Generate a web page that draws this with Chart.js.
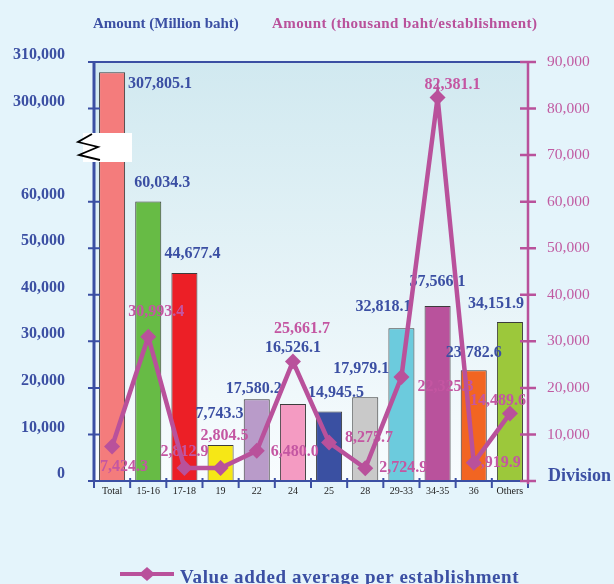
<!DOCTYPE html>
<html>
<head>
<meta charset="utf-8">
<script src="https://cdn.jsdelivr.net/npm/chart.js@4.4.0/dist/chart.umd.min.js"></script>
<style>
  html, body { margin: 0; padding: 0; background: #e4f4fb; }
</style>
</head>
<body>
<canvas id="myChart" width="614" height="584"></canvas>
<script>
// data
const divisions = ['Total', '15-16', '17-18', '19', '22', '24', '25', '28', '29-33', '34-35', '36', 'Others'];
const valueAdded = [307805.1, 60034.3, 44677.4, 7743.3, 17580.2, 16526.1, 14945.5, 17979.1, 32818.1, 37566.1, 23782.6, 34151.9];
const avgPerEstablishment = [7424.3, 30993.4, 2812.9, 2804.5, 6480.0, 25661.7, 8275.7, 2724.9, 22325.3, 82381.1, 3919.9, 14489.6];
const leftTickLabels = ['0', '10,000', '20,000', '30,000', '40,000', '50,000', '60,000', '', '300,000', '310,000'];
const rightTickLabels = ['', '10,000', '20,000', '30,000', '40,000', '50,000', '60,000', '70,000', '80,000', '90,000'];
// left axis is broken between 60,000 and 300,000
const axisCut = 220000;

const barColors = ['#f47c7c', '#67bb45', '#ec1f26', '#f6e716', '#b99bc9', '#f49bc2', '#3a50a2', '#c9c9c9', '#6ccbdd', '#b9529c', '#f26522', '#9cc83b'];

// label offsets from bar top / point (pixels)
const barLabelShift = [[48, 12], [14, -19], [8, -19], [-1, -31], [-3, -10], [0, -56], [7, -19], [-4, -28], [-18, -21], [0, -24], [0, -17], [-14, -18]];
const lineLabelShift = [[12, 20], [8, -25], [0, -16], [4, -32], [38, 1], [9, -33], [40, -5], [38, 0], [44, 10], [15, -13], [23, 0], [-12, -13]];

const navy = '#3b4fa3';
const magenta = '#b9519b';
const serif = 'Liberation Serif';

function fmt(v) {
    return v.toLocaleString('en-US', { minimumFractionDigits: 1, maximumFractionDigits: 1 });
}

const decor = {
    id: 'decor',
    beforeDraw(chart) {
        const { ctx, chartArea: a } = chart;
        ctx.save();
        ctx.fillStyle = '#e4f4fb';
        ctx.fillRect(0, 0, chart.width, chart.height);
        const g = ctx.createLinearGradient(0, a.top, 0, a.bottom);
        g.addColorStop(0, '#d1e9f0');
        g.addColorStop(1, '#f8fcfe');
        ctx.fillStyle = g;
        ctx.fillRect(a.left, a.top, a.right - a.left, a.bottom - a.top);
        ctx.restore();
    },
    afterDatasetDraw(chart, args) {
        if (args.index !== 0) return;
        const ctx = chart.ctx;
        ctx.save();
        ctx.textAlign = 'center';
        ctx.textBaseline = 'middle';
        ctx.font = 'bold 16px "' + serif + '"';
        ctx.fillStyle = navy;
        chart.getDatasetMeta(0).data.forEach((bar, i) => {
            ctx.fillText(fmt(valueAdded[i]), bar.x + barLabelShift[i][0], bar.y + barLabelShift[i][1]);
        });
        ctx.fillStyle = '#c456a2';
        chart.getDatasetMeta(1).data.forEach((pt, i) => {
            ctx.fillText(fmt(avgPerEstablishment[i]), pt.x + lineLabelShift[i][0], pt.y + lineLabelShift[i][1]);
        });
        ctx.restore();
    },
    afterDatasetsDraw(chart) {
        const { ctx, chartArea: a, scales } = chart;
        ctx.save();
        // axes
        ctx.strokeStyle = navy;
        ctx.lineWidth = 2;
        ctx.beginPath();
        ctx.moveTo(a.left, a.top); ctx.lineTo(a.right, a.top);
        ctx.moveTo(a.left, a.bottom); ctx.lineTo(a.right, a.bottom);
        ctx.stroke();
        ctx.lineWidth = 3;
        ctx.beginPath();
        ctx.moveTo(a.left, a.top); ctx.lineTo(a.left, a.bottom);
        ctx.stroke();
        ctx.lineWidth = 2;
        ctx.beginPath();
        scales.y.ticks.forEach((t, i) => {
            const y = scales.y.getPixelForTick(i);
            ctx.moveTo(a.left - 6, y); ctx.lineTo(a.left + 6, y);
        });
        const half = (scales.x.getPixelForValue(1) - scales.x.getPixelForValue(0)) / 2;
        for (let i = 0; i <= divisions.length; i++) {
            const x = scales.x.getPixelForValue(0) - half + i * half * 2;
            ctx.moveTo(x, a.bottom - 3); ctx.lineTo(x, a.bottom + 7);
        }
        ctx.stroke();
        ctx.strokeStyle = magenta;
        ctx.lineWidth = 2.5;
        ctx.beginPath();
        ctx.moveTo(a.right, a.top); ctx.lineTo(a.right, a.bottom + 3);
        scales.y1.ticks.forEach((t, i) => {
            const y = scales.y1.getPixelForTick(i);
            ctx.moveTo(a.right - 8, y); ctx.lineTo(a.right + 8, y);
        });
        ctx.stroke();

        // axis break
        ctx.fillStyle = '#ffffff';
        ctx.fillRect(83, 133, 49, 29);
        ctx.strokeStyle = '#000';
        ctx.lineWidth = 1.8;
        ctx.beginPath();
        ctx.moveTo(92, 134);
        ctx.lineTo(78, 142);
        ctx.lineTo(98, 147);
        ctx.lineTo(79, 155);
        ctx.lineTo(100, 160);
        ctx.stroke();

        // titles
        ctx.textBaseline = 'middle';
        ctx.textAlign = 'left';
        ctx.font = 'bold 15px "' + serif + '"';
        ctx.fillStyle = navy;
        ctx.fillText('Amount (Million baht)', 93, 24);
        ctx.fillStyle = magenta;
        ctx.letterSpacing = '0.4px';
        ctx.fillText('Amount (thousand baht/establishment)', 272, 24);
        ctx.letterSpacing = '0px';
        ctx.fillStyle = navy;
        ctx.font = 'bold 18px "' + serif + '"';
        ctx.fillText('Division', 548, 476);

        // legend
        ctx.strokeStyle = magenta;
        ctx.lineWidth = 4;
        ctx.beginPath();
        ctx.moveTo(120, 574); ctx.lineTo(174, 574);
        ctx.stroke();
        ctx.fillStyle = magenta;
        ctx.beginPath();
        ctx.moveTo(147, 567); ctx.lineTo(155, 574); ctx.lineTo(147, 581); ctx.lineTo(139, 574);
        ctx.closePath();
        ctx.fill();
        ctx.fillStyle = navy;
        ctx.font = 'bold 19px "' + serif + '"';
        ctx.letterSpacing = '0.6px';
        ctx.textBaseline = 'alphabetic';
        ctx.fillText('Value added average per establishment', 180, 583);
        ctx.restore();
    }
};

const ctx = document.getElementById('myChart');
new Chart(ctx, {
    type: 'bar',
    data: {
        labels: divisions,
        datasets: [{
            label: 'Value added',
            data: valueAdded.map(v => v > 70000 ? v - axisCut : v),
            backgroundColor: barColors,
            borderColor: '#3c3c3c',
            borderWidth: 1,
            barPercentage: 0.72,
            categoryPercentage: 1,
            yAxisID: 'y',
            order: 2
        }, {
            type: 'line',
            label: 'Value added average per establishment',
            data: avgPerEstablishment,
            borderColor: magenta,
            borderWidth: 4.5,
            pointStyle: 'rectRot',
            pointRadius: 8,
            pointBackgroundColor: magenta,
            pointBorderWidth: 0,
            tension: 0,
            yAxisID: 'y1',
            order: 1
        }]
    },
    options: {
        responsive: false,
        animation: false,
        layout: { padding: { top: 62, left: 0, right: 0, bottom: 0 } },
        plugins: {
            legend: { display: false },
            tooltip: { enabled: false }
        },
        scales: {
            x: {
                grid: { display: false, drawTicks: false },
                border: { display: false },
                ticks: { font: { family: serif, size: 10 }, color: '#222', padding: 4, maxRotation: 0, autoSkip: false },
                afterFit: s => { s.height = 103; }
            },
            y: {
                position: 'left',
                min: 0,
                max: 90000,
                grid: { display: false, drawTicks: false },
                border: { display: false },
                ticks: {
                    stepSize: 10000,
                    callback: (v, i) => leftTickLabels[i],
                    padding: 29,
                    labelOffset: -7,
                    font: { family: serif, size: 16, weight: 'bold' },
                    color: navy
                },
                afterFit: s => { s.width = 94; }
            },
            y1: {
                position: 'right',
                min: 0,
                max: 90000,
                grid: { display: false, drawTicks: false },
                border: { display: false },
                ticks: {
                    stepSize: 10000,
                    callback: (v, i) => rightTickLabels[i],
                    padding: 19,
                    font: { family: serif, size: 15.5 },
                    color: '#c15ba2'
                },
                afterFit: s => { s.width = 86; }
            }
        }
    },
    plugins: [decor]
});
</script>
</body>
</html>
